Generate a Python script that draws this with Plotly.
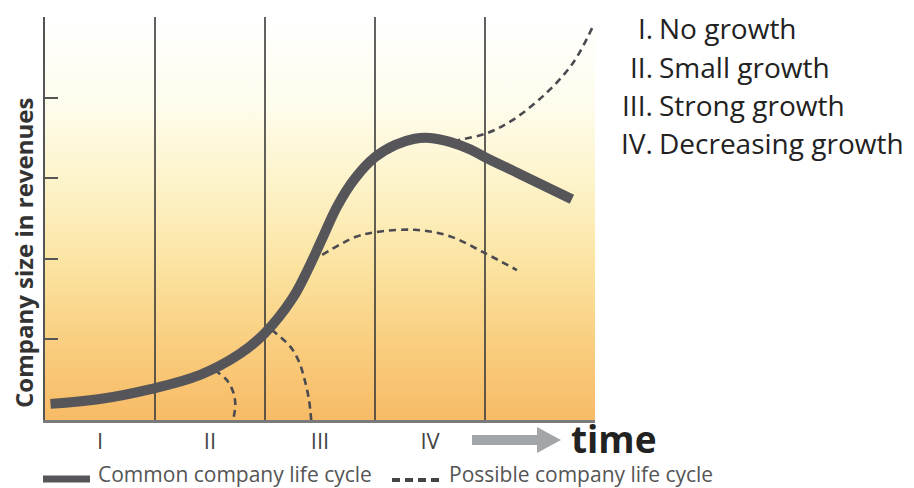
import plotly.graph_objects as go

W, H = 914, 488

# Phase boundaries and labels along the time axis
phase_bounds = [1, 2, 3, 4]
phase_pos = [0.5, 1.5, 2.5, 3.5]
phase_labels = ["I", "II", "III", "IV"]

# Common company life cycle (time in phase units, size in tick units)
common_x = [0.05, 0.5, 0.95, 1.41, 1.77, 2.0, 2.25, 2.38, 2.52,
            2.66, 2.82, 3.0, 3.18, 3.36, 3.5, 3.68, 3.86, 4.0, 4.32, 4.79]
common_y = [0.2, 0.26, 0.38, 0.56, 0.82, 1.08, 1.51, 1.84, 2.25,
            2.66, 3.0, 3.26, 3.41, 3.49, 3.5, 3.45, 3.36, 3.26, 3.05, 2.74]

# Possible company life cycles branching off the common curve
fail_early_x = [1.54, 1.65, 1.71, 1.73, 1.71]
fail_early_y = [0.62, 0.5, 0.35, 0.19, 0.0]
fail_mid_x = [2.06, 2.23, 2.31, 2.36, 2.4, 2.42]
fail_mid_y = [1.12, 0.91, 0.72, 0.5, 0.25, 0.0]
plateau_x = [2.52, 2.82, 3.0, 3.36, 3.68, 4.0, 4.29]
plateau_y = [2.05, 2.27, 2.33, 2.36, 2.28, 2.07, 1.86]
renewal_x = [3.71, 4.02, 4.25, 4.56, 4.8, 4.98]
renewal_y = [3.46, 3.56, 3.72, 4.06, 4.43, 4.88]

stage_numerals = ["I.", "II.", "III.", "IV."]
stage_names = ["No growth", "Small growth", "Strong growth", "Decreasing growth"]

FONT = "Open Sans"
CURVE = "#56555a"
DASH = "#4a4a50"


def px(x):
    return x / W


def py(y):
    return 1 - y / H


fig = go.Figure()

# warm vertical gradient behind the plot area
fig.add_trace(go.Scatter(
    x=[0, 5, 5, 0, 0], y=[0, 0, 5, 5, 0], mode="lines",
    line=dict(width=0), fill="toself",
    fillgradient=dict(type="vertical", colorscale=[
        [0.0, "#F7BB66"], [0.18, "#F9CD7E"], [0.38, "#FBE3A0"],
        [0.58, "#FDF3C8"], [0.78, "#FEFCEC"], [1.0, "#FFFFFF"]]),
    hoverinfo="skip", showlegend=False))

# phase dividers
for b in phase_bounds:
    fig.add_trace(go.Scatter(
        x=[b, b], y=[0, 5], mode="lines",
        line=dict(color="#3a3a3a", width=1.6),
        hoverinfo="skip", showlegend=False))

for xs, ys in [(fail_early_x, fail_early_y), (fail_mid_x, fail_mid_y),
               (plateau_x, plateau_y), (renewal_x, renewal_y)]:
    fig.add_trace(go.Scatter(
        x=xs, y=ys, mode="lines",
        line=dict(color=DASH, width=2.6, dash="7px,5px", shape="spline", smoothing=1.0),
        hoverinfo="skip", showlegend=False))

fig.add_trace(go.Scatter(
    x=common_x, y=common_y, mode="lines",
    line=dict(color=CURVE, width=10, shape="spline", smoothing=1.1),
    hoverinfo="skip", showlegend=False))

x0, x1 = 45, 595
y_top, y_bot = 17, 420

fig.update_layout(
    width=W, height=H,
    margin=dict(l=0, r=0, t=0, b=0),
    paper_bgcolor="white", plot_bgcolor="rgba(0,0,0,0)",
    showlegend=False,
    xaxis=dict(domain=[px(x0), px(x1)], range=[0, 5], showgrid=False, zeroline=False,
               showline=True, linecolor="#7a7a7a", linewidth=2.5,
               tickmode="array", tickvals=phase_pos, ticktext=phase_labels,
               ticks="", tickfont=dict(family=FONT, size=22, color="#444444")),
    yaxis=dict(domain=[py(y_bot), py(y_top)], range=[0, 5], showgrid=False, zeroline=False,
               showline=True, linecolor="#555555", linewidth=2,
               ticks="inside", ticklen=13, tickwidth=2, tickcolor="#555555",
               dtick=1, tick0=0, showticklabels=False),
)

# value axis caption
fig.add_annotation(text="<b>Company size in revenues</b>", xref="paper", yref="paper",
                   x=px(23), y=py(253), xanchor="center", yanchor="middle",
                   textangle=-90, showarrow=False,
                   font=dict(family=FONT, size=24, color="#333333"))

# time arrow
arrow_col = "#A3A6A9"
fig.add_shape(type="rect", xref="paper", yref="paper",
              x0=px(472), x1=px(540), y0=py(445), y1=py(435),
              fillcolor=arrow_col, line=dict(width=0))
fig.add_shape(type="path", xref="paper", yref="paper",
              path=f"M {px(537)} {py(427)} L {px(561)} {py(440)} L {px(537)} {py(453)} Z",
              fillcolor=arrow_col, line=dict(width=0))
fig.add_annotation(text="<b>time</b>", xref="paper", yref="paper",
                   x=px(569), y=py(438), xanchor="left", yanchor="middle",
                   showarrow=False,
                   font=dict(family=FONT, size=37, color="#222222"))

# stage list
for i, (num, name) in enumerate(zip(stage_numerals, stage_names)):
    yc = [28, 67, 105, 143][i]
    fig.add_annotation(text=num, xref="paper", yref="paper", x=px(655), y=py(yc),
                       xanchor="right", yanchor="middle", showarrow=False,
                       font=dict(family=FONT, size=28, color="#222222"))
    fig.add_annotation(text=name, xref="paper", yref="paper", x=px(657), y=py(yc),
                       xanchor="left", yanchor="middle", showarrow=False,
                       font=dict(family=FONT, size=28, color="#222222"))

# key below the chart
fig.add_shape(type="line", xref="paper", yref="paper",
              x0=px(43), x1=px(90), y0=py(479), y1=py(479),
              line=dict(color=CURVE, width=7))
fig.add_annotation(text="Common company life cycle", xref="paper", yref="paper",
                   x=px(97), y=py(474), xanchor="left", yanchor="middle", showarrow=False,
                   borderpad=0, font=dict(family=FONT, size=21, color="#555555"))
fig.add_shape(type="line", xref="paper", yref="paper",
              x0=px(392), x1=px(442), y0=py(480), y1=py(480),
              line=dict(color="#444444", width=4, dash="8px,5px"))
fig.add_annotation(text="Possible company life cycle", xref="paper", yref="paper",
                   x=px(448), y=py(474), xanchor="left", yanchor="middle", showarrow=False,
                   borderpad=0, font=dict(family=FONT, size=21, color="#555555"))

fig.write_html("out.html")
